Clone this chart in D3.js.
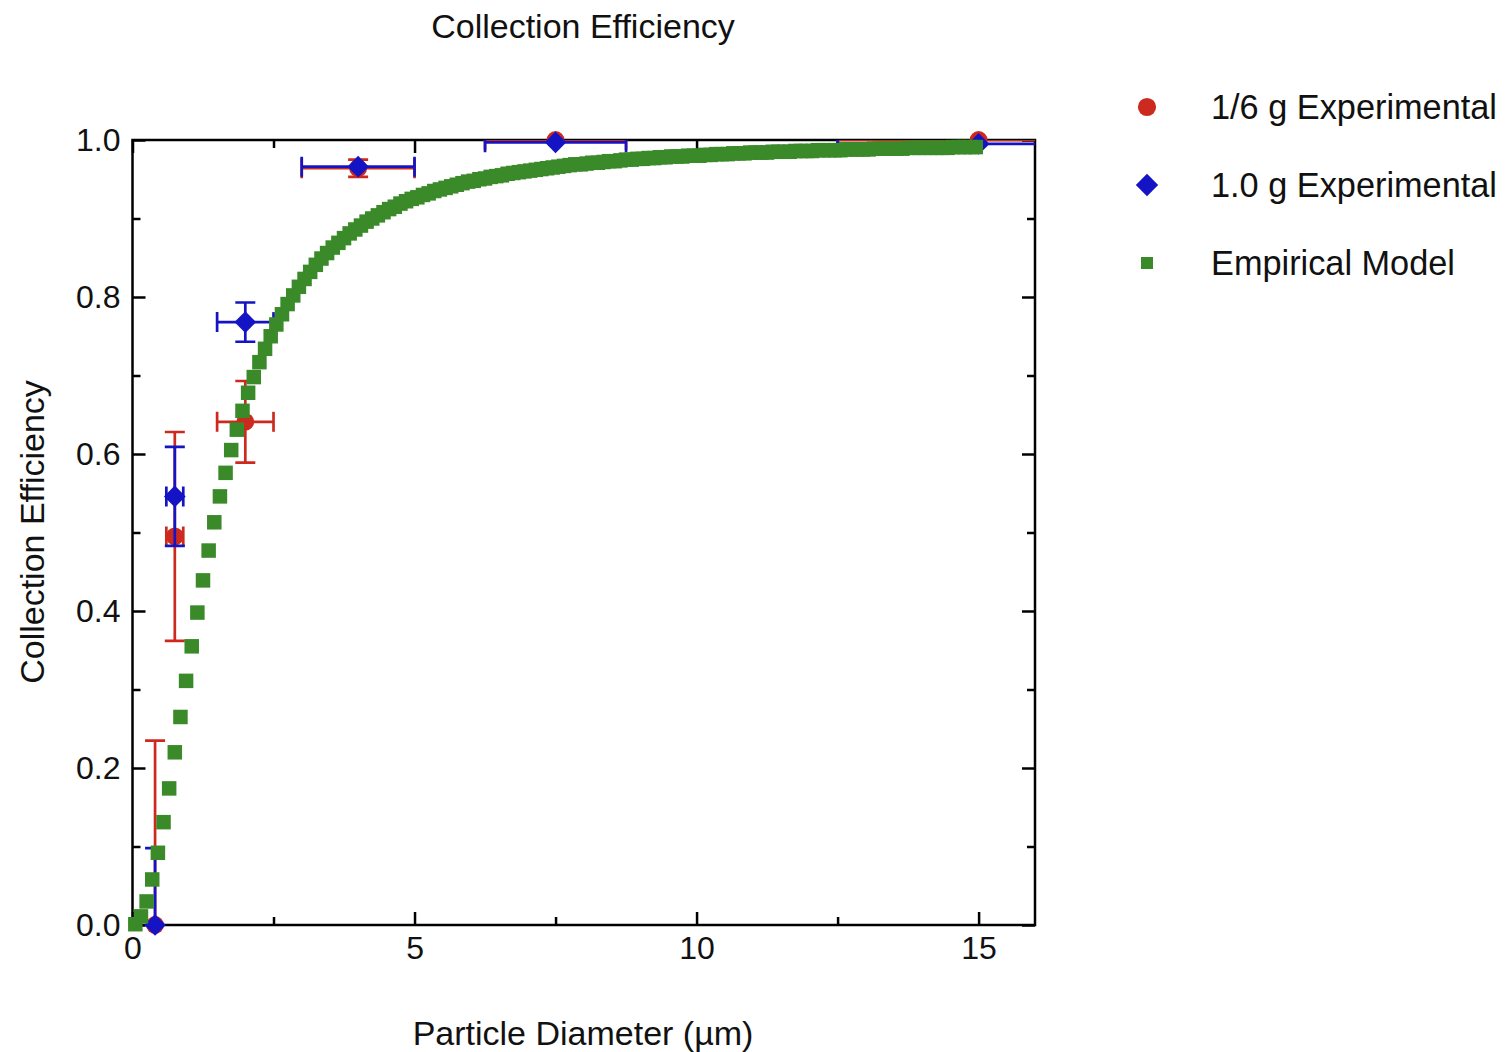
<!DOCTYPE html>
<html>
<head>
<meta charset="utf-8">
<script src="https://cdn.jsdelivr.net/npm/d3@7"></script>
<style>
  html, body { margin: 0; padding: 0; background: #fff; }
  svg { display: block; }
  text { font-family: "Liberation Sans", Arial, Helvetica, sans-serif; fill: #111; }
</style>
</head>
<body>
<svg id="chart" width="1507" height="1052"></svg>
<script>
// ---------------- data ----------------
const chartTitle = "Collection Efficiency";
const xTitle = "Particle Diameter (µm)";
const yTitle = "Collection Efficiency";
const seriesNames = ["1/6 g Experimental", "1.0 g Experimental", "Empirical Model"];

const xMajorTicks = [0, 5, 10, 15];
const xMinorTicks = [2.5, 7.5, 12.5];
const yMajorTicks = [0.0, 0.2, 0.4, 0.6, 0.8, 1.0];
const yMinorTicks = [0.1, 0.3, 0.5, 0.7, 0.9];

// 1/6 g experimental
const lowGX    = [0.4, 0.75, 2.0, 4.0, 7.5, 15.0];
const lowGY    = [0.0, 0.495, 0.641, 0.964, 1.0, 1.0];
const lowGXErr = [0, 0.15, 0.5, 1.0, 1.25, 2.5];
const lowGYErr = [0.235, 0.133, 0.052, 0.011, 0, 0];

// 1.0 g experimental
const oneGX    = [0.4, 0.75, 2.0, 4.0, 7.5, 15.0];
const oneGY    = [0.0, 0.546, 0.768, 0.966, 0.997, 0.995];
const oneGXErr = [0, 0.15, 0.5, 1.0, 1.25, 2.5];
const oneGYErr = [0.098, 0.063, 0.025, 0, 0, 0];

// Empirical model
const modelX = [
  0.05,0.15,0.25,0.35,0.45,0.55,0.65,0.75,0.85,0.95,
  1.05,1.15,1.25,1.35,1.45,1.55,1.65,1.75,1.85,1.95,
  2.05,2.15,2.25,2.35,2.45,2.55,2.65,2.75,2.85,2.95,
  3.05,3.15,3.25,3.35,3.45,3.55,3.65,3.75,3.85,3.95,
  4.05,4.15,4.25,4.35,4.45,4.55,4.65,4.75,4.85,4.95,
  5.05,5.15,5.25,5.35,5.45,5.55,5.65,5.75,5.85,5.95,
  6.05,6.15,6.25,6.35,6.45,6.55,6.65,6.75,6.85,6.95,
  7.05,7.15,7.25,7.35,7.45,7.55,7.65,7.75,7.85,7.95,
  8.05,8.15,8.25,8.35,8.45,8.55,8.65,8.75,8.85,8.95,
  9.05,9.15,9.25,9.35,9.45,9.55,9.65,9.75,9.85,9.95,
  10.05,10.15,10.25,10.35,10.45,10.55,10.65,10.75,10.85,10.95,
  11.05,11.15,11.25,11.35,11.45,11.55,11.65,11.75,11.85,11.95,
  12.05,12.15,12.25,12.35,12.45,12.55,12.65,12.75,12.85,12.95,
  13.05,13.15,13.25,13.35,13.45,13.55,13.65,13.75,13.85,13.95,
  14.05,14.15,14.25,14.35,14.45,14.55,14.65,14.75,14.85,14.95
];
const modelY = [
  0.001,0.011,0.030,0.058,0.092,0.131,0.174,0.220,0.265,0.311,
  0.355,0.398,0.439,0.477,0.513,0.546,0.576,0.605,0.631,0.655,
  0.678,0.698,0.717,0.734,0.750,0.765,0.778,0.791,0.802,0.813,
  0.823,0.832,0.841,0.849,0.856,0.863,0.869,0.875,0.881,0.886,
  0.891,0.896,0.900,0.904,0.908,0.912,0.915,0.919,0.922,0.925,
  0.927,0.930,0.932,0.935,0.937,0.939,0.941,0.943,0.945,0.947,
  0.948,0.950,0.951,0.953,0.954,0.955,0.957,0.958,0.959,0.960,
  0.961,0.962,0.963,0.964,0.965,0.966,0.967,0.968,0.969,0.969,
  0.970,0.971,0.971,0.972,0.973,0.973,0.974,0.975,0.975,0.976,
  0.976,0.977,0.977,0.978,0.978,0.979,0.979,0.979,0.980,0.980,
  0.980,0.981,0.981,0.982,0.982,0.982,0.983,0.983,0.983,0.984,
  0.984,0.984,0.984,0.985,0.985,0.985,0.985,0.986,0.986,0.986,
  0.986,0.987,0.987,0.987,0.987,0.987,0.988,0.988,0.988,0.988,
  0.988,0.989,0.989,0.989,0.989,0.989,0.989,0.990,0.990,0.990,
  0.990,0.990,0.990,0.990,0.990,0.991,0.991,0.991,0.991,0.991
];

// ---------------- drawing ----------------
const RED = "#cc2a1f", BLUE = "#1414c4", GREEN = "#3a8a2a";
const svg = d3.select("#chart");
svg.append("rect").attr("width", 1507).attr("height", 1052).attr("fill", "#fff");

const x = d3.scaleLinear().domain([0, 16]).range([132.5, 1035]);
const y = d3.scaleLinear().domain([0, 1]).range([925, 140]);
const [x0, x1] = x.range();
const [y0, y1] = y.range();

svg.append("defs").append("clipPath").attr("id", "plotClip")
  .append("rect").attr("x", x0).attr("y", y1).attr("width", x1 - x0).attr("height", y0 - y1);

// Axes (ticks inward on all sides)
function styleAxis(g, fontSize) {
  g.select(".domain").remove();
  g.selectAll(".tick line").attr("stroke", "#000").attr("stroke-width", 2.5);
  g.selectAll(".tick text").attr("font-size", fontSize).attr("fill", "#111")
    .attr("font-family", '"Liberation Sans", Arial, Helvetica, sans-serif');
}
const MAJ = 13, MIN = 8;
svg.append("g").attr("transform", `translate(0,${y0})`)
  .call(d3.axisBottom(x).tickValues(xMajorTicks).tickSize(-MAJ).tickPadding(11).tickFormat(d3.format("d")))
  .call(g => styleAxis(g, 32));
svg.append("g").attr("transform", `translate(0,${y0})`)
  .call(d3.axisBottom(x).tickValues(xMinorTicks).tickSize(-MIN).tickFormat(""))
  .call(g => styleAxis(g, 32));
svg.append("g").attr("transform", `translate(0,${y1})`)
  .call(d3.axisTop(x).tickValues(xMajorTicks).tickSize(-MAJ).tickFormat(""))
  .call(g => styleAxis(g, 32));
svg.append("g").attr("transform", `translate(0,${y1})`)
  .call(d3.axisTop(x).tickValues(xMinorTicks).tickSize(-MIN).tickFormat(""))
  .call(g => styleAxis(g, 32));
svg.append("g").attr("transform", `translate(${x0},0)`)
  .call(d3.axisLeft(y).tickValues(yMajorTicks).tickSize(-MAJ).tickPadding(12).tickFormat(d3.format(".1f")))
  .call(g => styleAxis(g, 32));
svg.append("g").attr("transform", `translate(${x0},0)`)
  .call(d3.axisLeft(y).tickValues(yMinorTicks).tickSize(-MIN).tickFormat(""))
  .call(g => styleAxis(g, 32));
svg.append("g").attr("transform", `translate(${x1},0)`)
  .call(d3.axisRight(y).tickValues(yMajorTicks).tickSize(-MAJ).tickFormat(""))
  .call(g => styleAxis(g, 32));
svg.append("g").attr("transform", `translate(${x1},0)`)
  .call(d3.axisRight(y).tickValues(yMinorTicks).tickSize(-MIN).tickFormat(""))
  .call(g => styleAxis(g, 32));

// frame
svg.append("rect").attr("x", x0).attr("y", y1).attr("width", x1 - x0).attr("height", y0 - y1)
  .attr("fill", "none").attr("stroke", "#000").attr("stroke-width", 2.5);

// error bars + markers
const CAP = 10;
function drawErrorSeries(xs, ys, xe, ye, color) {
  const pts = xs.map((d, i) => ({ x: d, y: ys[i], xe: xe[i], ye: ye[i] }));
  const g = svg.append("g").attr("clip-path", "url(#plotClip)")
    .attr("stroke", color).attr("stroke-width", 2.7).attr("fill", "none");
  pts.forEach(p => {
    if (p.ye > 0) {
      const ya = y(p.y - p.ye), yb = y(p.y + p.ye), cx = x(p.x);
      g.append("line").attr("x1", cx).attr("x2", cx).attr("y1", ya).attr("y2", yb);
      g.append("line").attr("x1", cx - CAP).attr("x2", cx + CAP).attr("y1", ya).attr("y2", ya);
      g.append("line").attr("x1", cx - CAP).attr("x2", cx + CAP).attr("y1", yb).attr("y2", yb);
    }
    if (p.xe > 0) {
      const xa = x(p.x - p.xe), xb = x(p.x + p.xe), cy = y(p.y);
      g.append("line").attr("x1", xa).attr("x2", xb).attr("y1", cy).attr("y2", cy);
      g.append("line").attr("x1", xa).attr("x2", xa).attr("y1", cy - CAP).attr("y2", cy + CAP);
      g.append("line").attr("x1", xb).attr("x2", xb).attr("y1", cy - CAP).attr("y2", cy + CAP);
    }
  });
  return pts;
}

const redPts = drawErrorSeries(lowGX, lowGY, lowGXErr, lowGYErr, RED);
svg.append("g").selectAll("path").data(redPts).join("path")
  .attr("d", d3.symbol(d3.symbolCircle, 250))
  .attr("transform", d => `translate(${x(d.x)},${y(d.y)})`)
  .attr("fill", RED);

const bluePts = drawErrorSeries(oneGX, oneGY, oneGXErr, oneGYErr, BLUE);
svg.append("g").selectAll("path").data(bluePts).join("path")
  .attr("d", d3.symbol(d3.symbolSquare, 235))
  .attr("transform", d => `translate(${x(d.x)},${y(d.y)}) rotate(45)`)
  .attr("fill", BLUE);

// model squares
const SQ = 14.5;
const modelPts = modelX.map((d, i) => ({ x: d, y: modelY[i] }));
svg.append("g").selectAll("rect").data(modelPts).join("rect")
  .attr("x", d => x(d.x) - SQ / 2).attr("y", d => y(d.y) - SQ / 2)
  .attr("width", SQ).attr("height", SQ).attr("fill", GREEN);

// titles
svg.append("text").attr("x", 583).attr("y", 38).attr("text-anchor", "middle")
  .attr("font-size", 34).text(chartTitle);
svg.append("text").attr("x", 583).attr("y", 1045).attr("text-anchor", "middle")
  .attr("font-size", 34).text(xTitle);
svg.append("text").attr("transform", "translate(44,532) rotate(-90)").attr("text-anchor", "middle")
  .attr("font-size", 34).text(yTitle);

// legend
const legendY = [107, 185, 263];
const lg = svg.append("g");
lg.append("path").attr("d", d3.symbol(d3.symbolCircle, 260)).attr("transform", `translate(1147,${legendY[0]})`).attr("fill", RED);
lg.append("path").attr("d", d3.symbol(d3.symbolSquare, 250)).attr("transform", `translate(1147,${legendY[1]}) rotate(45)`).attr("fill", BLUE);
lg.append("rect").attr("x", 1147 - 6).attr("y", legendY[2] - 6).attr("width", 12).attr("height", 12).attr("fill", GREEN);
seriesNames.forEach((n, i) => {
  lg.append("text").attr("x", 1211).attr("y", legendY[i] + 12).attr("font-size", 34.3).text(n);
});
</script>
</body>
</html>
